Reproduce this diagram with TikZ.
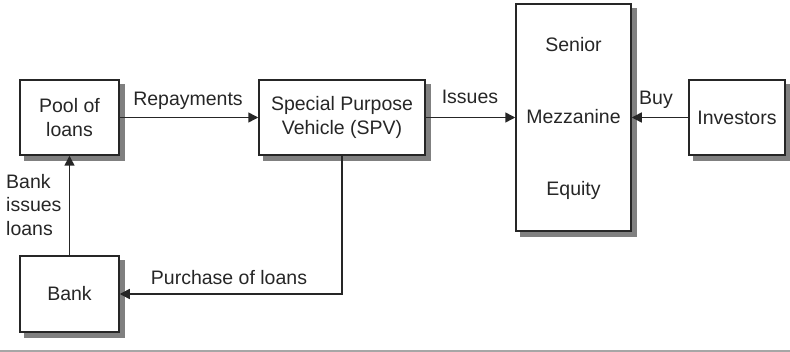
\documentclass[tikz,border=0pt]{standalone}
\usepackage{fontspec}
\setmainfont{Liberation Sans}
\usetikzlibrary{arrows.meta,backgrounds}
\begin{document}
\begin{tikzpicture}[x=1pt,y=-1pt,
  every node/.style={font=\fontsize{19.5}{23.5}\selectfont, text=black!85},
  boxnode/.style={draw=black!85, line width=1.5pt, fill=white, rectangle, inner sep=0pt, align=center},
  shadowbox/.style={fill=black!50},
  flow/.style={draw=black!85, line width=1.5pt, -{Triangle[length=10pt,width=10pt]}},
  lbl/.style={inner sep=0pt, anchor=base}
]
\useasboundingbox (0,0) rectangle (790,352);
\node[boxnode, minimum width=99pt, minimum height=75pt] (pool) at (69.5,117.5) {Pool of\\loans};
\node[boxnode, minimum width=166pt, minimum height=75pt] (spv) at (342,117.5) {Special Purpose\\Vehicle (SPV)};
\node[boxnode, minimum width=115pt, minimum height=227pt] (tr) at (573.5,117.5) {};
\node[boxnode, minimum width=96pt, minimum height=75pt] (inv) at (737,117.5) {Investors};
\node[boxnode, minimum width=99pt, minimum height=76pt] (bank) at (69.5,294) {Bank};
\begin{pgfonlayer}{background}
\foreach \n in {pool,spv,tr,inv,bank}
  \fill[shadowbox] ([xshift=5pt,yshift=-5pt]\n.south west) rectangle ([xshift=5pt,yshift=-5pt]\n.north east);
\end{pgfonlayer}
\node[lbl] (sen) at (573.5,52) {Senior};
\node[lbl] (mez) at (573.5,124) {Mezzanine};
\node[lbl] (eq) at (573.5,196) {Equity};
\draw[flow] (pool.east) -- (spv.west);
\draw[flow] (spv.east) -- (tr.west);
\draw[flow] (inv.west) -- (tr.east);
\draw[flow] (spv.south) |- (bank.east);
\draw[flow] (bank.north) -- (pool.south);
\node[lbl] (l1) at (188,106) {Repayments};
\node[lbl] (l2) at (470,104) {Issues};
\node[lbl] (l3) at (656,105) {Buy};
\node[lbl] (l4) at (229,285) {Purchase of loans};
\node[inner sep=0pt, anchor=north west, align=left] (l5) at (6,174) {Bank\\issues\\loans};
\coordinate (bl) at (0,351);
\coordinate (br) at (790,351);
\draw[black!35, line width=1.5pt] (bl) -- (br);
\end{tikzpicture}
\end{document}
